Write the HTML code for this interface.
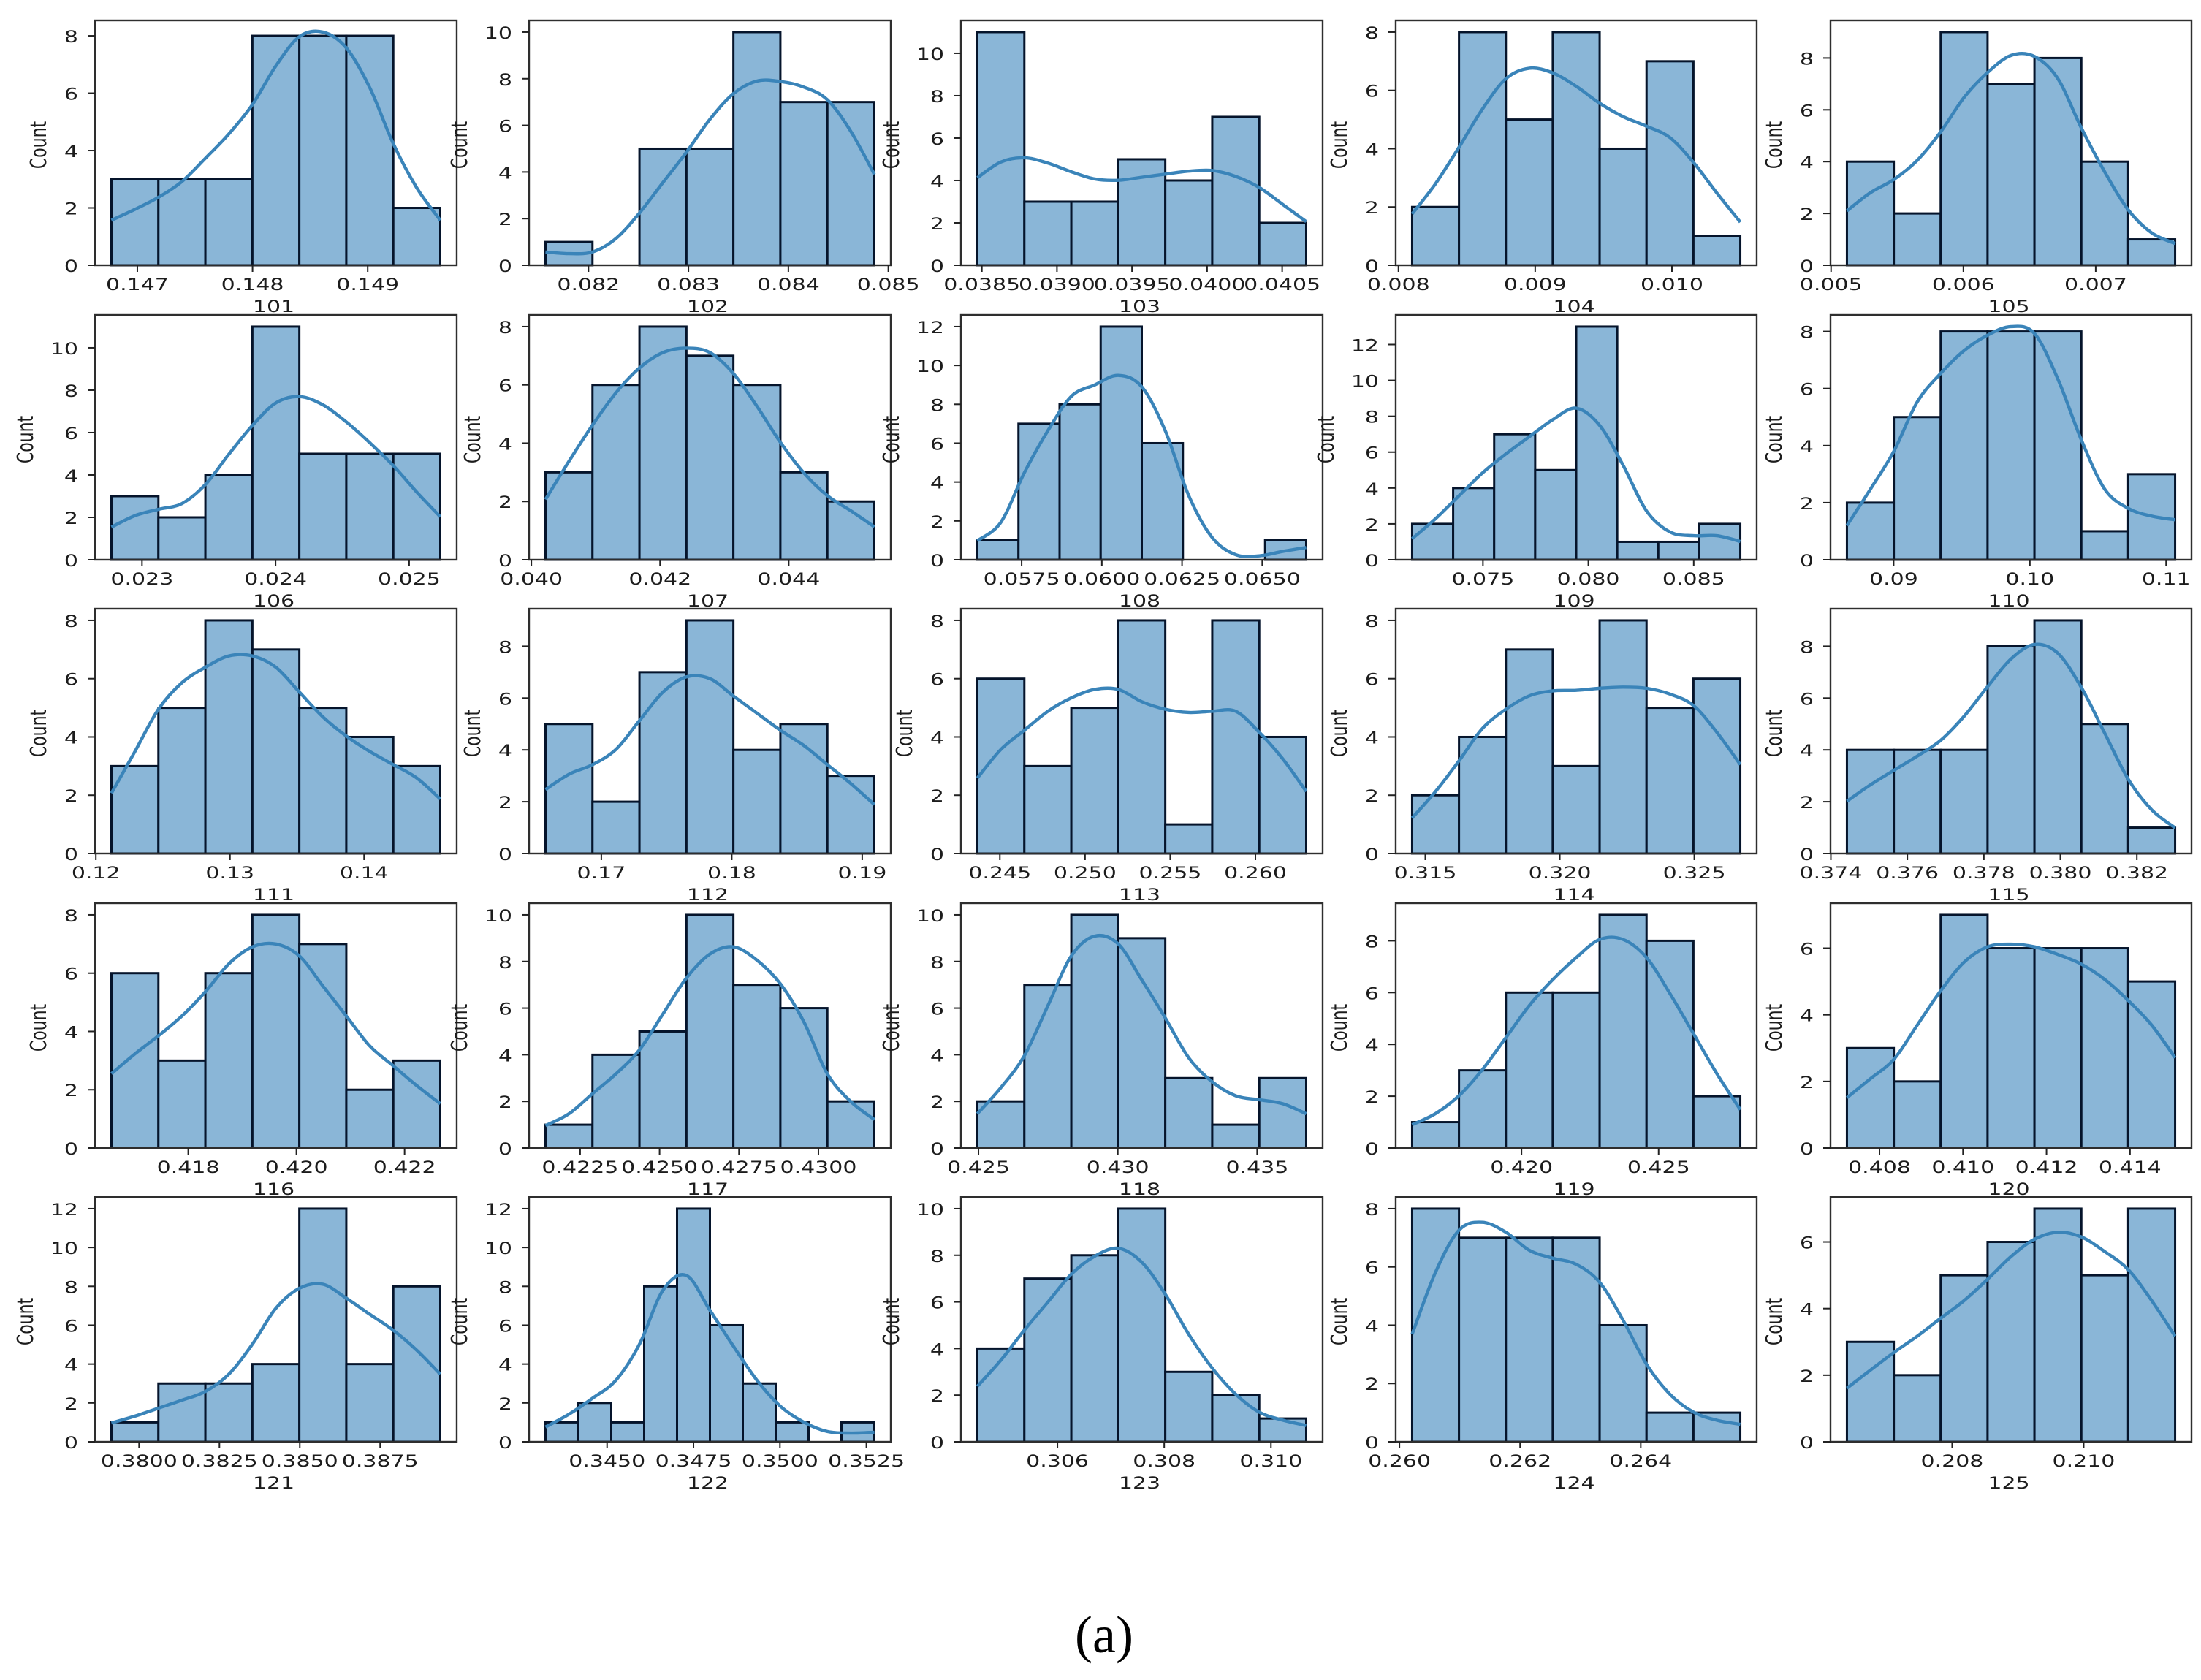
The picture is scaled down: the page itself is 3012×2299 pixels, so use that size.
<!DOCTYPE html>
<html lang="en">
<head>
<meta charset="utf-8">
<title>Histograms with KDE for features 101-125</title>
<style>
html,body{margin:0;padding:0;background:#fff;}
svg{display:block;}
text{font-family:"DejaVu Sans","Liberation Sans",sans-serif;fill:#1c1c1c;}
#figure-caption{font-family:"Liberation Serif",serif;font-size:72px;fill:#000;}
</style>
</head>
<body>
<svg id="chart" xmlns="http://www.w3.org/2000/svg" width="3012" height="2299" viewBox="0 0 3012 2299">
<rect x="0" y="0" width="3012" height="2299" fill="#ffffff"/>
<text id="figure-caption" x="1511" y="2261" text-anchor="middle">(a)</text>
</svg>
<script>
const panelNames = ['101','102','103','104','105','106','107','108','109','110','111','112','113','114','115','116','117','118','119','120','121','122','123','124','125'];

const binCounts = [
[3,3,3,8,8,8,2],[1,0,5,5,10,7,7],[11,3,3,5,4,7,2],[2,8,5,8,4,7,1],[4,2,9,7,8,4,1],
[3,2,4,11,5,5,5],[3,6,8,7,6,3,2],[1,7,8,12,6,0,0,1],[2,4,7,5,13,1,1,2],[2,5,8,8,8,1,3],
[3,5,8,7,5,4,3],[5,2,7,9,4,5,3],[6,3,5,8,1,8,4],[2,4,7,3,8,5,6],[4,4,4,8,9,5,1],
[6,3,6,8,7,2,3],[1,4,5,10,7,6,2],[2,7,10,9,3,1,3],[1,3,6,6,9,8,2],[3,2,7,6,6,6,5],
[1,3,3,4,12,4,8],[1,2,1,8,12,6,3,1,0,1],[4,7,8,10,3,2,1],[8,7,7,7,4,1,1],[3,2,5,6,7,5,7]
];

const kdeValues = [
[1.57,1.95,2.37,2.92,3.73,4.58,5.6,6.95,7.97,8.13,7.58,6.19,4.24,2.7,1.57],
[.57,.5,.57,1.15,2.24,3.55,4.85,6.26,7.36,7.9,7.88,7.64,7.1,5.74,3.9],
[4.13,4.87,5.07,4.82,4.41,4.07,4.01,4.15,4.3,4.44,4.47,4.19,3.67,2.87,2.06],
[1.76,2.8,4.05,5.36,6.4,6.76,6.6,6.14,5.56,5.1,4.77,4.38,3.53,2.48,1.48],
[2.1,2.8,3.31,4.05,5.15,6.48,7.44,8.1,8.06,7.2,5.3,3.6,2.14,1.25,.84],
[1.54,2.08,2.38,2.65,3.55,4.98,6.33,7.4,7.7,7.31,6.5,5.52,4.44,3.19,2.03],
[2.07,3.38,4.62,5.73,6.58,7.11,7.26,7.11,6.39,5.27,4.03,2.98,2.2,1.68,1.13],
[.98,1.93,4.48,6.64,8.41,9.0,9.49,8.9,6.64,3.3,1.14,.26,.2,.43,.63],
[1.17,2.29,3.57,4.84,5.9,6.86,7.81,8.45,7.49,5.27,2.72,1.55,1.34,1.34,1.02],
[1.2,2.47,3.8,5.53,6.53,7.33,7.87,8.17,7.93,6.33,4.2,2.47,1.8,1.53,1.4],
[2.07,3.5,4.95,5.86,6.39,6.78,6.78,6.39,5.54,4.69,4.03,3.5,3.05,2.59,1.87],
[2.47,3.06,3.43,4.02,5.13,6.23,6.82,6.75,6.08,5.42,4.76,4.17,3.43,2.7,1.89],
[2.59,3.57,4.23,4.88,5.34,5.63,5.63,5.21,4.95,4.84,4.88,4.88,4.16,3.25,2.13],
[1.22,2.13,3.18,4.29,4.95,5.41,5.58,5.6,5.67,5.71,5.67,5.47,5.08,4.16,3.05],
[2.02,2.65,3.21,3.76,4.37,5.3,6.44,7.51,8.07,7.73,6.41,4.64,2.87,1.69,.99],
[2.55,3.23,3.85,4.53,5.36,6.32,6.9,7.0,6.59,5.56,4.53,3.5,2.82,2.14,1.52],
[.96,1.47,2.33,3.18,4.21,5.75,7.29,8.32,8.63,8.06,7.04,5.41,3.18,1.99,1.22],
[1.47,2.59,3.96,6.1,8.24,9.09,8.75,7.21,5.58,3.87,2.84,2.24,2.07,1.9,1.47],
[.9,1.33,2.02,3.03,4.26,5.5,6.5,7.35,8.05,8.05,7.35,5.96,4.42,2.87,1.48],
[1.51,2.08,2.66,3.69,4.72,5.58,6.04,6.12,6.04,5.81,5.52,5.06,4.43,3.69,2.71],
[.97,1.32,1.73,2.14,2.59,3.48,5.02,6.87,7.9,8.11,7.39,6.56,5.74,4.71,3.48],
[.76,1.42,2.24,3.17,5.02,7.8,8.56,6.77,4.92,3.17,1.83,1.01,.53,.45,.49],
[2.38,3.5,4.79,5.99,7.19,7.96,8.3,7.7,6.33,4.61,3.16,2.04,1.27,.93,.7],
[3.69,5.82,7.26,7.53,7.19,6.57,6.3,6.09,5.47,4.17,2.66,1.63,1.02,.74,.6],
[1.61,2.15,2.68,3.17,3.71,4.24,4.88,5.56,6.08,6.29,6.15,5.71,5.17,4.24,3.17]
];

const dataMin = [0.146775,0.08157,0.03847,0.00810,0.00512,0.022771,0.04022,0.05612,0.07164,0.08657,0.12116,0.16572,0.24368,0.31451,0.37442,0.41658,0.42141,0.42496,0.41601,0.40722,0.37914,0.34322,0.30450,0.26021,0.20640];

const dataMax = [0.14963,0.08486,0.04066,0.0105,0.0076,0.025233,0.04533,0.06637,0.08721,0.11066,0.14568,0.19093,0.26298,0.32671,0.38300,0.42266,0.43176,0.43676,0.42798,0.41508,0.38937,0.35273,0.31066,0.26565,0.21139];

const xTickLabels = [
['0.147','0.148','0.149'],['0.082','0.083','0.084','0.085'],['0.0385','0.0390','0.0395','0.0400','0.0405'],['0.008','0.009','0.010'],['0.005','0.006','0.007'],
['0.023','0.024','0.025'],['0.040','0.042','0.044'],['0.0575','0.0600','0.0625','0.0650'],['0.075','0.080','0.085'],['0.09','0.10','0.11'],
['0.12','0.13','0.14'],['0.17','0.18','0.19'],['0.245','0.250','0.255','0.260'],['0.315','0.320','0.325'],['0.374','0.376','0.378','0.380','0.382'],
['0.418','0.420','0.422'],['0.4225','0.4250','0.4275','0.4300'],['0.425','0.430','0.435'],['0.420','0.425'],['0.408','0.410','0.412','0.414'],
['0.3800','0.3825','0.3850','0.3875'],['0.3450','0.3475','0.3500','0.3525'],['0.306','0.308','0.310'],['0.260','0.262','0.264'],['0.208','0.210']
];

const yTickStep = 2;

/* layout constants (not chart data) */
const gridColLeft = [130,724,1315,1910,2505];
const gridColWidth = [495,495,495,494,494];
const gridRowTop = [28,431,833,1236,1638];
const plotHeight = 335;
const FONT = 22, XS = 30 / 22;

const NS = 'http://www.w3.org/2000/svg';
const svg = document.getElementById('chart');

function make(parent, tag, attrs) {
  const el = document.createElementNS(NS, tag);
  for (const k in attrs) el.setAttribute(k, attrs[k]);
  parent.appendChild(el);
  return el;
}

function label(parent, str, x, y, anchor, extra) {
  const el = make(parent, 'text', {
    'font-size': FONT,
    'text-anchor': anchor,
    transform: 'translate(' + x + ',' + y + ') scale(' + XS + ',1)' + (extra || '')
  });
  el.textContent = str;
  return el;
}

function smoothPath(pts) {
  let d = 'M' + pts[0][0].toFixed(2) + ',' + pts[0][1].toFixed(2);
  for (let i = 0; i < pts.length - 1; i++) {
    const p0 = pts[Math.max(i - 1, 0)], p1 = pts[i], p2 = pts[i + 1], p3 = pts[Math.min(i + 2, pts.length - 1)];
    const c1x = p1[0] + (p2[0] - p0[0]) / 6, c1y = p1[1] + (p2[1] - p0[1]) / 6;
    const c2x = p2[0] - (p3[0] - p1[0]) / 6, c2y = p2[1] - (p3[1] - p1[1]) / 6;
    d += 'C' + c1x.toFixed(2) + ',' + c1y.toFixed(2) + ' ' + c2x.toFixed(2) + ',' + c2y.toFixed(2) + ' ' + p2[0].toFixed(2) + ',' + p2[1].toFixed(2);
  }
  return d;
}

panelNames.forEach(function (name, idx) {
  const col = idx % 5, row = Math.floor(idx / 5);
  const L = gridColLeft[col], W = gridColWidth[col], T = gridRowTop[row], H = plotHeight, B = T + H;
  const counts = binCounts[idx], kde = kdeValues[idx];
  const lo = dataMin[idx], hi = dataMax[idx], span = hi - lo;

  const xDomLo = lo - 0.05 * span, xDomHi = hi + 0.05 * span;
  const yTop = Math.max(Math.max.apply(null, counts), Math.max.apply(null, kde)) * 1.05;
  const xScale = function (v) { return L + (v - xDomLo) / (xDomHi - xDomLo) * W; };
  const yScale = function (v) { return B - v / yTop * H; };

  const g = make(svg, 'g', {});
  
  

  const binW = span / counts.length;
  counts.forEach(function (c, i) {
    const x0 = xScale(lo + i * binW), x1 = xScale(lo + (i + 1) * binW), y = yScale(c);
    const bar = make(g, 'rect', { x: x0, y: y, width: x1 - x0, height: B - y, fill: '#8ab6d7', stroke: '#05142b', 'stroke-width': 3 });
    
    
  });

  const pts = kde.map(function (v, i) {
    return [xScale(lo + span * i / (kde.length - 1)), yScale(v)];
  });
  const line = make(g, 'path', { d: smoothPath(pts), fill: 'none', stroke: '#3a84b9', 'stroke-width': 4.4, 'stroke-linejoin': 'round' });
  
  

  const frame = make(g, 'rect', { x: L, y: T, width: W, height: H, fill: 'none', stroke: '#2e2e2e', 'stroke-width': 2.4 });
  
  

  xTickLabels[idx].forEach(function (lab) {
    const x = xScale(parseFloat(lab));
    const tick = make(g, 'line', { x1: x, x2: x, y1: B, y2: B + 9, stroke: '#222', 'stroke-width': 2 });
    
    
    const t = label(g, lab, x, B + 34, 'middle');
    
    
  });

  let maxTick = 0;
  for (let v = 0; v <= yTop; v += yTickStep) {
    maxTick = v;
    const y = yScale(v);
    const tick = make(g, 'line', { x1: L - 10, x2: L, y1: y, y2: y, stroke: '#222', 'stroke-width': 2 });
    
    
    const t = label(g, String(v), L - 23, y + 9, 'end');
    
    
  }

  const countX = L - (maxTick >= 10 ? 96 : 78) + 11;
  const yTitle = label(g, 'Count', countX, T + H / 2 + 3, 'middle', ' rotate(-90)');
  
  

  const xTitle = label(g, name, L + W / 2 - 3, B + 64, 'middle');
  
  
});
</script>
</body>
</html>
